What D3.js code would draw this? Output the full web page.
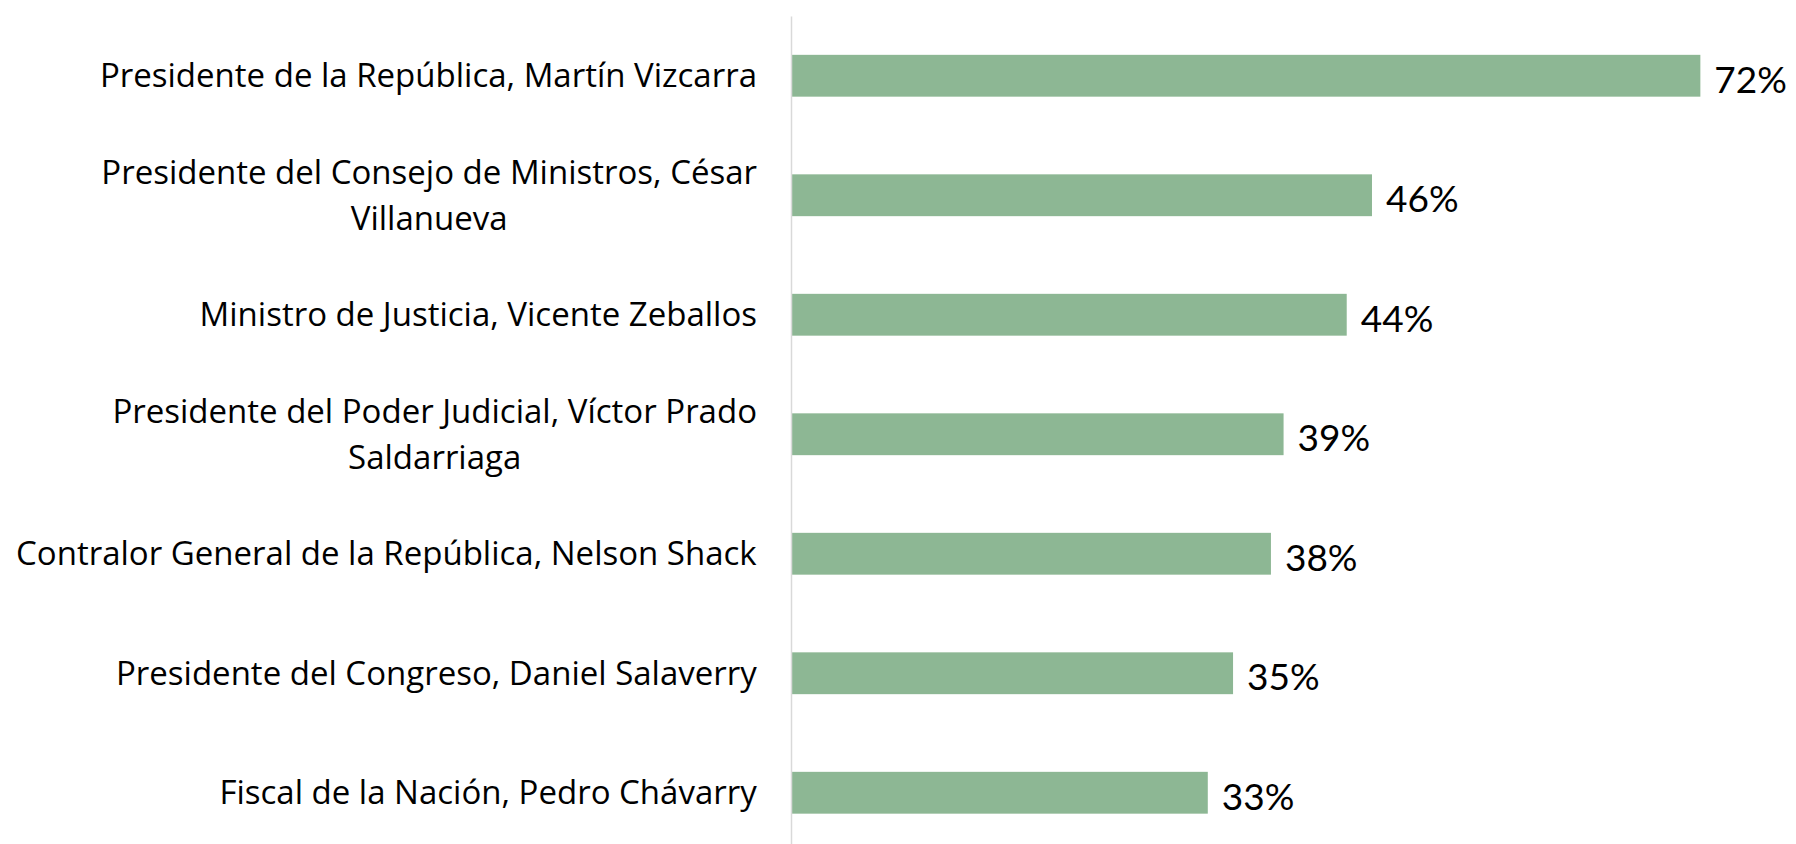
<!DOCTYPE html>
<html>
<head>
<meta charset="utf-8">
<script src="https://cdn.jsdelivr.net/npm/d3@7"></script>
<style>
  body { margin: 0; background: #fff; }
  svg { display: block; }
</style>
</head>
<body>
<div id="chart"></div>
<script>
// data
const categories = [
  "Presidente de la República, Martín Vizcarra",
  "Presidente del Consejo de Ministros, César Villanueva",
  "Ministro de Justicia, Vicente Zeballos",
  "Presidente del Poder Judicial, Víctor Prado Saldarriaga",
  "Contralor General de la República, Nelson Shack",
  "Presidente del Congreso, Daniel Salaverry",
  "Fiscal de la Nación, Pedro Chávarry"
];
// how each category label is broken into lines
const label_lines = [
  ["Presidente de la República, Martín Vizcarra"],
  ["Presidente del Consejo de Ministros, César", "Villanueva"],
  ["Ministro de Justicia, Vicente Zeballos"],
  ["Presidente del Poder Judicial, Víctor Prado", "Saldarriaga"],
  ["Contralor General de la República, Nelson Shack"],
  ["Presidente del Congreso, Daniel Salaverry"],
  ["Fiscal de la Nación, Pedro Chávarry"]
];
const values = [72, 46, 44, 39, 38, 35, 33];

// set the dimensions and margins of the graph
const width = 1796,
  height = 844;
const margin = { top: 16, left: 791 };

const svg = d3.select("#chart")
  .append("svg")
  .attr("width", width)
  .attr("height", height);

// scales
const x = d3.scaleLinear()
  .domain([0, 1])
  .range([margin.left, margin.left + 1263]);

const y = d3.scaleBand()
  .domain(categories)
  .range([margin.top, margin.top + 7 * 119.5])
  .paddingInner(0.65)
  .paddingOuter(0.325);

// bars
svg.selectAll(".bar")
  .data(values)
  .enter()
  .append("rect")
  .attr("class", "bar")
  .attr("x", x(0))
  .attr("y", (d, i) => y(categories[i]))
  .attr("width", d => x(d / 100) - x(0))
  .attr("height", y.bandwidth())
  .attr("fill", "#8db794");

// value labels
svg.selectAll(".val")
  .data(values)
  .enter()
  .append("text")
  .attr("class", "val")
  .attr("x", d => x(d / 100) + 14)
  .attr("y", (d, i) => y(categories[i]) + y.bandwidth() / 2 + 4)
  .attr("dy", "0.35em")
  .attr("font-family", "Lato, sans-serif")
  .attr("font-size", 37)
  .attr("fill", "#000")
  .text(d => d + "%");

// y axis: just the vertical line, labels drawn by hand below
const yAxis = svg.append("g")
  .attr("class", "y-axis")
  .attr("transform", `translate(${margin.left},0)`)
  .call(d3.axisLeft(y).tickSize(0).tickFormat(""));

yAxis.select(".domain")
  .attr("stroke", "#d9d9d9")
  .attr("stroke-width", 1.5);

// category labels, right aligned block, lines centred within the block
const lineGap = 46;
const labels = svg.append("g")
  .attr("font-family", "'Open Sans', sans-serif")
  .attr("font-size", 33)
  .attr("fill", "#000");

categories.forEach(function (c, i) {
  const lines = label_lines[i];
  const cy = y(c) + y.bandwidth() / 2;
  const g = labels.append("g");
  const t = g.append("text")
    .attr("text-anchor", "middle");
  lines.forEach(function (l, j) {
    t.append("tspan")
      .attr("x", 0)
      .attr("y", (j - (lines.length - 1) / 2) * lineGap)
      .attr("dy", "0.35em")
      .text(l);
  });
  const w = t.node().getBBox().width;
  g.attr("transform", `translate(${margin.left - 34 - w / 2},${cy})`);
});
</script>
</body>
</html>
